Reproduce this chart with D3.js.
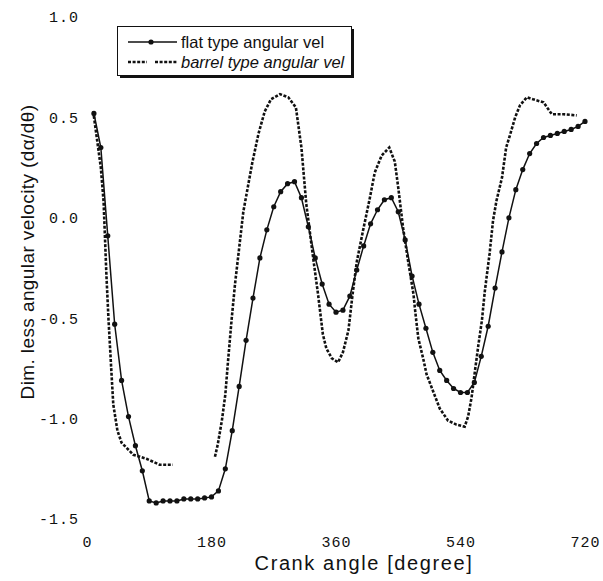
<!DOCTYPE html>
<html>
<head>
<meta charset="utf-8">
<script src="https://cdn.jsdelivr.net/npm/d3@7"></script>
<style>
  body { margin: 0; background: #fff; }
  .axis .tick text { font-family: "Liberation Mono", monospace; font-size: 15px; letter-spacing: 1px; fill: #111; }
  .axis-title { font-family: "Liberation Sans", Arial, sans-serif; fill: #111; }
  .legend text { font-family: "Liberation Sans", Arial, sans-serif; font-size: 16.5px; fill: #111; }
  .flat { fill: none; stroke: #111; stroke-width: 1.5; }
  .barrel { fill: none; stroke: #111; stroke-width: 2.6; stroke-dasharray: 3 1.6; }
</style>
</head>
<body>
<div id="chart"></div>
<script>
// flat type: markers every 10 degrees
const flatAngle = d3.range(10, 721, 10);
const flatVel = [
   0.52,  0.35, -0.09, -0.53, -0.81, -0.99, -1.135, -1.26, -1.41, -1.42,
  -1.41, -1.41, -1.41, -1.40, -1.40, -1.40, -1.395, -1.39, -1.36, -1.25,
  -1.06, -0.84, -0.61, -0.40, -0.20, -0.06,  0.055,  0.13,  0.17,  0.18,
   0.10, -0.045, -0.20, -0.33, -0.43, -0.47, -0.46, -0.39, -0.26, -0.14,
  -0.03,  0.04,  0.09,  0.10,  0.03, -0.11, -0.29, -0.43, -0.55, -0.67,
  -0.76, -0.81, -0.85, -0.87, -0.87, -0.82, -0.69, -0.54, -0.35, -0.17,
   0.00,  0.14,  0.24,  0.32,  0.37,  0.40,  0.41,  0.42,  0.43,  0.44,
   0.455, 0.48
];

// barrel type: dashed, no markers (null = gap in the printed line)
const barrelAngle = [
  9, 20, 24, 28, 31, 35, 38, 44, 50, 67, 86, 105, 124, 155, 185, 189, 195, 200,
  204, 209, 214, 226, 239, 248, 257, 266, 279, 291, 302, 310, 317, 327, 334,
  341, 346, 354, 363, 370, 378, 384, 390, 399, 409, 416, 426, 437, 445, 450,
  457, 464, 472, 475, 479, 486, 491, 500, 510, 522, 534, 546, 551, 556, 561,
  566, 571, 575, 582, 587, 592, 600, 606, 612, 619, 626, 636, 645, 660, 672,
  689, 708
];
const barrelVel = [
  0.53, 0.25, 0.08, -0.28, -0.50, -0.75, -0.93, -1.06, -1.12, -1.18, -1.20, -1.23, -1.23, null, -1.19, -1.13, -1.01, -0.88,
  -0.71, -0.51, -0.33, 0.03, 0.275, 0.42, 0.53, 0.59, 0.616, 0.60, 0.55, 0.35, 0.07, -0.20, -0.38,
  -0.58, -0.65, -0.70, -0.72, -0.67, -0.56, -0.38, -0.22, -0.065, 0.10, 0.225, 0.31, 0.35, 0.28, 0.15,
  -0.05, -0.21, -0.38, -0.48, -0.60, -0.70, -0.78, -0.86, -0.95, -1.01, -1.03, -1.04, -0.99, -0.895, -0.76,
  -0.63, -0.51, -0.37, -0.18, -0.015, 0.085, 0.20, 0.35, 0.417, 0.50, 0.56, 0.60, 0.59, 0.575, 0.516,
  0.516, 0.51
];

const xTicks = [0, 180, 360, 540, 720];
const yTicks = [1.0, 0.5, 0.0, -0.5, -1.0, -1.5];
const yTickLabels = ['1.0', '0.5', '0.0', '-0.5', '-1.0', '-1.5'];

const legendLabels = ['flat type angular vel', 'barrel type angular vel'];

const width = 603,
      height = 581,
      margin = {top: 17, right: 18, bottom: 62, left: 87};

const chartWidth = width - margin.left - margin.right,
      chartHeight = height - margin.top - margin.bottom;

const svg = d3.select('#chart').append('svg')
    .attr('width', width)
    .attr('height', height);

const chart = svg.append('g')
    .attr('transform', `translate(${margin.left}, ${margin.top})`);

let x = d3.scaleLinear().domain([0, 720]).range([0, chartWidth]);
let y = d3.scaleLinear().domain([1.0, -1.5]).range([0, chartHeight]);

const flat = flatAngle.map((a, i) => ({a: a, v: flatVel[i]}));
const barrel = barrelAngle.map((a, i) => ({a: a, v: barrelVel[i]}));

// axes, no domain line (only labels survive in the scan)
let yAxis = d3.axisLeft(y)
    .tickValues(yTicks)
    .tickFormat((d, i) => yTickLabels[i])
    .tickSize(0)
    .tickPadding(8);

chart.append('g')
    .attr('class', 'axis axis--y')
    .call(yAxis)
    .call(g => g.select('.domain').remove());

let xAxis = d3.axisBottom(x)
    .tickValues(xTicks)
    .tickFormat(d => d)
    .tickSize(0)
    .tickPadding(17);

chart.append('g')
    .attr('class', 'axis axis--x')
    .attr('transform', `translate(0, ${chartHeight})`)
    .call(xAxis)
    .call(g => g.select('.domain').remove());

svg.append('text')
    .attr('class', 'axis-title')
    .attr('x', 364)
    .attr('y', 570)
    .attr('text-anchor', 'middle')
    .style('font-size', '20px')
    .style('letter-spacing', '1.6px')
    .text('Crank angle [degree]');

svg.append('text')
    .attr('class', 'axis-title')
    .attr('transform', 'translate(34, 252) rotate(-90)')
    .attr('text-anchor', 'middle')
    .style('font-size', '19px')
    .style('letter-spacing', '0.4px')
    .text('Dim. less angular velocity (dα/dθ)');

// lines
let line = d3.line()
    .defined(d => d.v != null)
    .x(d => x(d.a))
    .y(d => y(d.v));

chart.append('path')
    .datum(barrel)
    .attr('class', 'barrel')
    .attr('d', line);

chart.append('path')
    .datum(flat)
    .attr('class', 'flat')
    .attr('d', line);

chart.append('g')
    .selectAll('circle')
    .data(flat)
    .enter().append('circle')
    .attr('cx', d => x(d.a))
    .attr('cy', d => y(d.v))
    .attr('r', 2.6)
    .attr('fill', '#111');

// legend box with drop shadow
const legend = svg.append('g').attr('class', 'legend');

legend.append('rect')
    .attr('x', 120).attr('y', 29)
    .attr('width', 234).attr('height', 49)
    .attr('fill', '#111');

legend.append('rect')
    .attr('x', 117.5).attr('y', 26.5)
    .attr('width', 234).attr('height', 49)
    .attr('fill', '#fff')
    .attr('stroke', '#111')
    .attr('stroke-width', 1);

legend.append('line')
    .attr('class', 'flat')
    .attr('x1', 128).attr('x2', 177)
    .attr('y1', 42).attr('y2', 42);

legend.append('circle')
    .attr('cx', 151).attr('cy', 42)
    .attr('r', 2.6)
    .attr('fill', '#111');

legend.append('line')
    .attr('class', 'barrel')
    .attr('x1', 128).attr('x2', 147)
    .attr('y1', 62).attr('y2', 62);

legend.append('line')
    .attr('class', 'barrel')
    .attr('x1', 155).attr('x2', 177)
    .attr('y1', 62).attr('y2', 62);

legend.selectAll('.label')
    .data(legendLabels)
    .enter().append('text')
    .attr('class', 'label')
    .attr('x', 181)
    .attr('y', (d, i) => 48 + i * 20)
    .style('font-style', (d, i) => i === 1 ? 'italic' : 'normal')
    .text(d => d);
</script>
</body>
</html>
